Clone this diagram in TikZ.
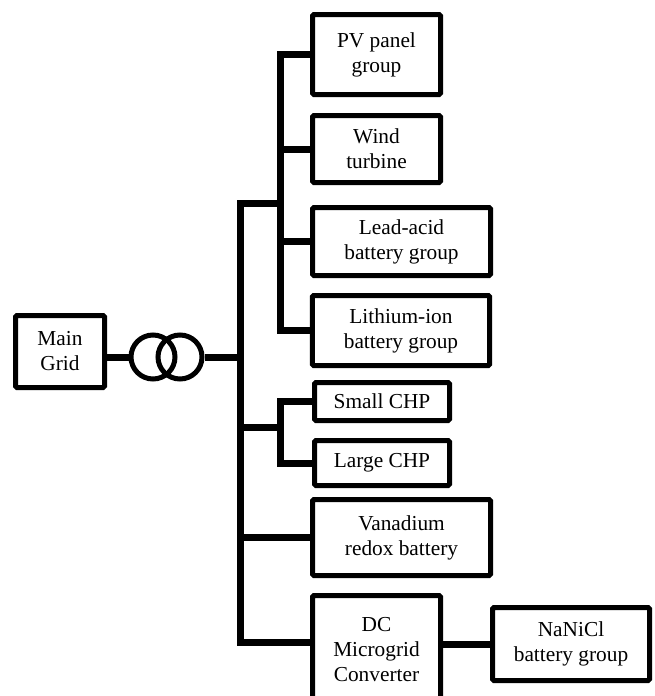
\documentclass[tikz,border=0pt]{standalone}
\usepackage{fontspec}
\setmainfont{Liberation Serif}
\usetikzlibrary{positioning}

\begin{document}
\begin{tikzpicture}[x=0.75pt, y=-0.75pt,
    box/.style={draw, rectangle, line width=3.75pt, rounded corners=1pt, align=center, inner sep=0pt},
    wire/.style={line width=5.25pt},
    font=\fontsize{16}{18.75}\selectfont]
  \useasboundingbox (0,0) rectangle (654,696);
  \clip (0,0) rectangle (654,696);

  % sources and storage
  \node[box, minimum width=66.75pt, minimum height=54pt] (grid) at (60,351.5) {Main\\Grid};
  \node[box, minimum width=96pt, minimum height=60pt] (pv) at (376.5,54.5) {PV panel\\group};
  \node[box, minimum width=96pt, minimum height=50.25pt] (wind) at (376.5,149) {Wind\\turbine};
  \node[box, minimum width=133.5pt, minimum height=51pt] (lead) at (401.5,241.5) {Lead-acid\\battery group};
  \node[box, minimum width=133pt, minimum height=52.5pt] (li) at (401,330.5) {Lithium-ion\\battery group};
  \node[box, minimum width=101.25pt, minimum height=28.5pt] (small) at (382,401.5) {Small CHP};
  \node[box, minimum width=101.25pt, minimum height=33.75pt] (large) at (382,463) {Large CHP};
  \node[box, minimum width=133.5pt, minimum height=57pt] (van) at (401.5,537.5) {Vanadium\\redox battery};
  \node[box, minimum width=96pt, minimum height=81.75pt] (conv) at (376.5,650) {DC\\Microgrid\\Converter};
  \node[box, minimum width=117.75pt, minimum height=54.75pt] (nani) at (571,644) {NaNiCl\\battery group};

  % transformer
  \node[draw, circle, line width=3.75pt, minimum size=33pt, inner sep=0pt] (tr1) at (153,357) {};
  \node[draw, circle, line width=3.75pt, minimum size=33pt, inner sep=0pt] (tr2) at (180,357) {};

  % bus bars
  \coordinate (bustop) at (240,203);
  \coordinate (busbot) at (240,642);
  \coordinate (chp) at (240,427);
  \coordinate (s1) at (280,0);
  \coordinate (s2) at (280,0);

  \draw[wire] (grid.east |- tr1.west) -- (tr1.west);
  \draw[wire] (tr2.east) -- (tr2.east -| bustop);
  \draw[wire] (bustop -| s1) -- (bustop) -- (busbot) -- (busbot -| conv.west);
  \draw[wire] (pv.west) -- (pv.west -| s1) -- (li.west -| s1) -- (li.west);
  \draw[wire] (wind.west) -- (wind.west -| s1);
  \draw[wire] (lead.west) -- (lead.west -| s1);
  \draw[wire] (chp) -- (chp -| s2);
  \draw[wire] (small.west) -- (small.west -| s2) -- (large.west -| s2) -- (large.west);
  \draw[wire] (van.west) -- (van.west -| bustop);
  \draw[wire] (conv.east |- nani.west) -- (nani.west);
\end{tikzpicture}
\end{document}
